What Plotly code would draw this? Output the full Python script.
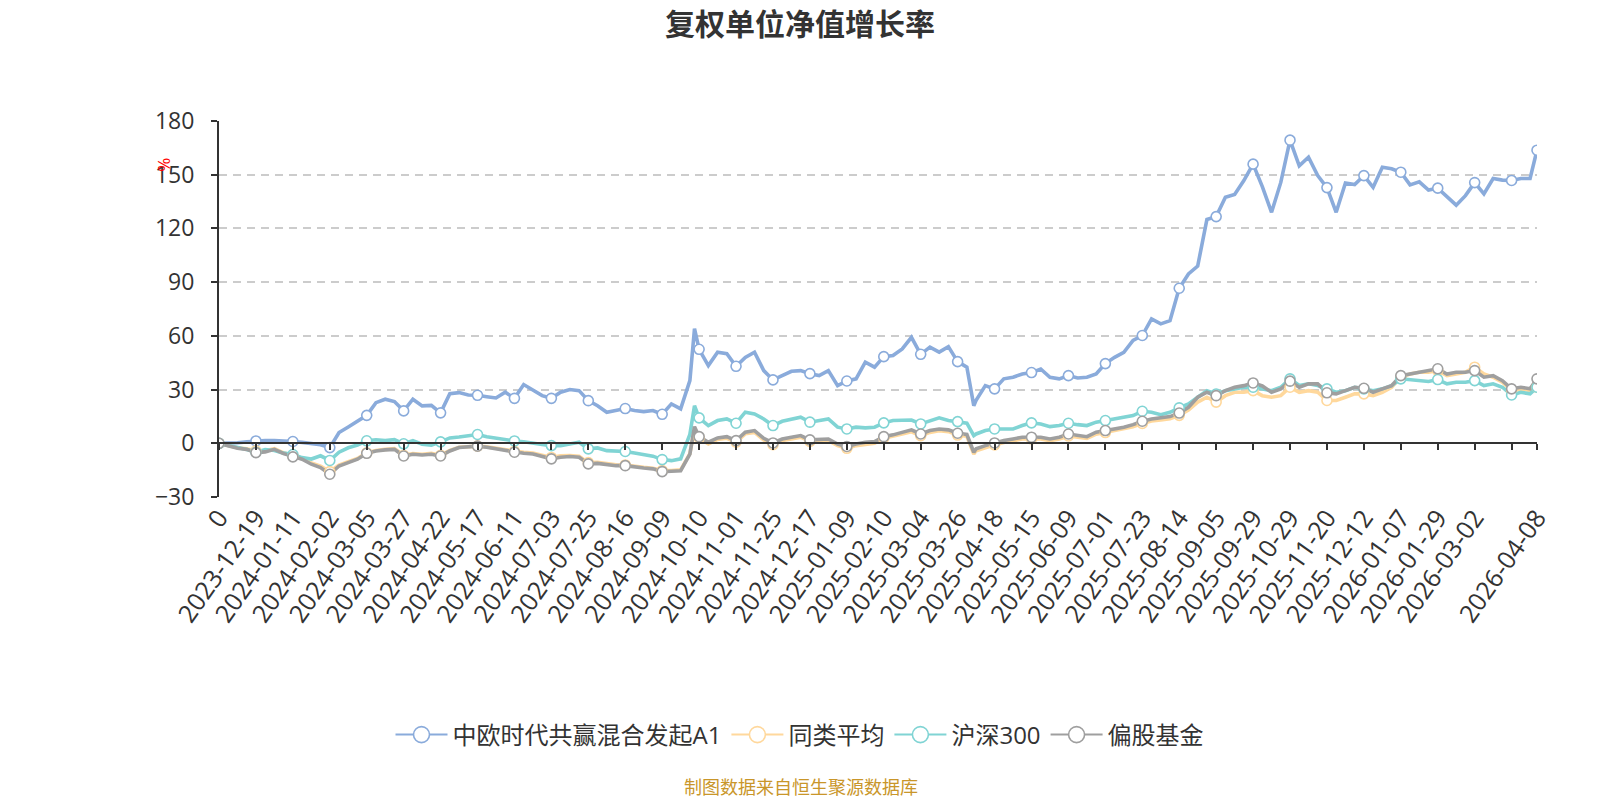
import plotly.graph_objects as go

# category index of each sampled trading day (0 = first day, 571 = 2026-04-08)
IDX = sorted(list(range(0, 569, 4)) + [206, 327, 571])

TICK_IDX = list(range(0, 561, 16)) + [571]
TICK_TEXT = ["0", "2023-12-19", "2024-01-11", "2024-02-02", "2024-03-05", "2024-03-27",
             "2024-04-22", "2024-05-17", "2024-06-11", "2024-07-03", "2024-07-25", "2024-08-16",
             "2024-09-09", "2024-10-10", "2024-11-01", "2024-11-25", "2024-12-17", "2025-01-09",
             "2025-02-10", "2025-03-04", "2025-03-26", "2025-04-18", "2025-05-15", "2025-06-09",
             "2025-07-01", "2025-07-23", "2025-08-14", "2025-09-05", "2025-09-29", "2025-10-29",
             "2025-11-20", "2025-12-12", "2026-01-07", "2026-01-29", "2026-03-02", "", "2026-04-08"]

FUND = [0, 0, 0.3, 0.8, 1.3, 1.5, 1.5, 1.0,
        1.0, 0.5, 0, -0.8, -2.4, 6, 9.1, 12.1,
        15.6, 22.7, 24.6, 23.3, 18.1, 24.6, 20.9, 21.2,
        17, 27.7, 28.3, 27, 26.8, 26, 25.3, 28.5,
        25.1, 32.8, 29.8, 26.6, 25.1, 28.5, 30, 29.4,
        23.8, 21, 17.3, 18.6, 19.4, 18.3, 17.7, 18.3,
        16.2, 22, 19.2, 35, 64, 52.5, 43.4, 50.9,
        50, 43, 48, 50.9, 40.6, 35.4, 37.8, 40.2,
        40.6, 38.9, 37.8, 40.6, 32.2, 34.8, 36, 45.3,
        42.5, 48.4, 49, 52.7, 59.2, 49.7, 53.7, 50.9,
        54, 45.6, 42.5, 21, 24, 32.2, 30.4,
        36, 36.9, 38.7, 39.5, 41.5, 36.9, 36, 37.8,
        36.5, 36.9, 38.7, 44.5, 48, 50.8, 57.4, 60.2,
        69.5, 66.7, 68.5, 86.6, 94.6, 99, 125, 126.6,
        137.4, 139, 146.7, 155.9, 143.4, 129, 145.7, 169.3,
        155, 159.8, 149.5, 142.8, 129, 145.4, 144.5, 149.5,
        143, 154.2, 153.3, 151.4, 144.3, 146, 141.4, 142.5,
        137.4, 133, 138.3, 145.6, 139.3, 147.9, 147, 146.8,
        147.9, 147.9, 163.7]

PEER = [0, -1.3, -2.5, -3, -4.2, -4.2, -3, -5.3,
        -7, -8.3, -11, -12.8, -15.8, -12.2, -10.3, -8.5,
        -5.3, -4, -3.4, -3, -6.7, -5.8, -6.1, -5.6,
        -6.7, -4, -2.2, -1.8, -1.6, -2, -2.8, -3.7,
        -4.5, -5, -5.4, -6.7, -7.9, -7, -6.8, -7.2,
        -10.8, -10.6, -11.4, -12, -12.1, -13, -13.4, -13.9,
        -15.2, -15.2, -14.8, -5.8, 8.2, 3, -0.3, 2.2,
        2.8, 0.6, 5.3, 6.1, 1.9, -0.8, 1.5, 2.4,
        3.4, 1, 1.5, 1.5, -1.3, -2.8, -1.3, -0.4,
        0, 2.8, 3.8, 5.2, 6.4, 4.2, 6.1, 7,
        6.5, 4.6, 3.9, -6, -4.2, -2.3, -0.9,
        0.4, 1.3, 2.4, 2.4, 2.4, 1.4, 2.4, 4.1,
        3.3, 2.7, 5.1, 6, 6.9, 7.8, 9.2, 11.1,
        12.4, 13, 13.7, 15.6, 18.6, 23, 25.7, 23,
        26.6, 28.5, 28.5, 29.4, 26.6, 25.7, 26.6, 31.3,
        28.5, 29.4, 28.5, 23.9, 23.9, 25.7, 27.6, 27.6,
        26.6, 28.5, 31.3, 37, 38.7, 39.7, 39.7, 40.6,
        37.8, 38.7, 39.7, 42.5, 38.7, 36.9, 34.1, 29.4,
        30.4, 29.4, 31.3]

HS300 = [0, -1, -2.5, -3.5, -5, -3.5, -4, -5.5,
         -6.3, -8, -8.8, -7, -9.6, -5, -2.5, -1,
         1.4, 2, 1.5, 2, -0.3, 1.5, -0.5, -1,
         0.8, 3, 3.5, 4, 4.9, 3.7, 2.8, 2.3,
         1.3, 0.9, 0, -0.7, -1.3, -1.3, -0.4, 0.6,
         -3.1, -2.6, -4.1, -4.1, -4.6, -5.4, -6.3, -7.2,
         -9.1, -9.7, -8.7, 5, 21, 14.2, 9.9, 12.7,
         13.6, 11.2, 17.4, 16.4, 13.6, 9.9, 12.3, 13.6,
         14.6, 11.8, 12.7, 13.6, 9, 8, 9, 8.6,
         9, 11.4, 12.7, 13, 13, 10.8, 12.7, 14.2,
         12.7, 12.1, 11.2, 4.3, 5.2, 7.1, 8,
         8, 8, 9.9, 11.4, 10.8, 9.3, 9.9, 11.2,
         10.4, 9.9, 11.8, 12.7, 14, 14.5, 15.5, 17.9,
         17.3, 16, 17.3, 19.8, 22, 25.7, 29.4, 27.5,
         29.4, 30.4, 31.3, 31.3, 30.4, 29.4, 31.3, 36,
         32.3, 33.2, 32.3, 30.4, 28.5, 29.4, 31.3, 30.4,
         29.4, 30.4, 32.2, 36, 35.6, 35, 34.5, 35.6,
         33.2, 34.1, 34.1, 35, 32.2, 33.2, 31.3, 27,
         28.5, 27.6, 31.3]

EQUITY = [0, -1.5, -2.8, -3.4, -5.2, -4.8, -3.4, -5.8,
          -7.6, -8.9, -11.7, -13.6, -17.3, -12.7, -10.8, -8.9,
          -5.6, -4.3, -3.7, -3.4, -7.1, -6.1, -6.5, -6.1,
          -7.1, -4.3, -2.4, -2, -1.6, -2.2, -3.1, -4.1,
          -5, -5.6, -6, -7.4, -8.7, -7.8, -7.4, -7.8,
          -11.5, -11.2, -11.9, -12.5, -12.5, -13.4, -13.8, -14.3,
          -15.8, -15.6, -15.3, -6, 9.3, 3.7, 0.6, 3,
          3.7, 1.5, 6.2, 7.1, 2.8, 0.2, 2.4, 3.4,
          4.3, 1.9, 2.4, 2.4, -0.4, -1.8, -0.4, 0.6,
          0.9, 3.7, 4.7, 6.2, 7.5, 5.2, 7.1, 8,
          7.5, 5.6, 4.9, -5, -3.1, -1.3, 0.2,
          1.5, 2.4, 3.4, 3.4, 3.4, 2.4, 3.4, 5.2,
          4.3, 3.7, 6.2, 7.1, 8, 8.9, 10.4, 12.3,
          13.6, 14.2, 14.9, 16.9, 20.1, 25.7, 28.5, 26.6,
          29.4, 31.3, 32.2, 33.7, 32, 28.5, 30.4, 34.7,
          31.3, 33.2, 33.2, 28.2, 27.6, 29.4, 31.3, 30.7,
          28.5, 30.4, 32.2, 37.8, 38.7, 39.7, 40.6, 41.6,
          38.7, 39.7, 39.7, 40.6, 36.9, 37.8, 35, 30.4,
          31.3, 30.4, 36]

SERIES = [("中欧时代共赢混合发起A1", FUND, "#8aabdb"),
          ("同类平均", PEER, "#ffd89c"),
          ("沪深300", HS300, "#80d4d4"),
          ("偏股基金", EQUITY, "#9f9f9f")]

for name, vals, _ in SERIES:
    assert len(vals) == len(IDX), (name, len(vals), len(IDX))

FONT = "Open Sans, Noto Sans CJK SC, sans-serif"
fig = go.Figure()

for name, vals, color in SERIES:
    fig.add_trace(go.Scatter(x=IDX, y=vals, mode="lines", name=name,
                             line=dict(color=color, width=3.6), showlegend=False,
                             hoverinfo="skip"))
for name, vals, color in SERIES:
    mx = [i for i in IDX if i in TICK_IDX]
    my = [v for i, v in zip(IDX, vals) if i in TICK_IDX]
    fig.add_trace(go.Scatter(x=mx, y=my, mode="markers", xaxis="x2", showlegend=False,
                             marker=dict(symbol="circle", size=10, color="white",
                                         line=dict(color=color, width=1.6))))
for name, vals, color in SERIES:
    fig.add_trace(go.Scatter(x=[None], y=[None], mode="lines+markers", name=name,
                             xaxis="x2",
                             line=dict(color=color, width=2),
                             marker=dict(symbol="circle", size=22, color="white",
                                         line=dict(color=color, width=1.6))))

XR = [0, 571]
fig.update_layout(
    width=1600, height=800,
    paper_bgcolor="white", plot_bgcolor="white",
    margin=dict(l=219, r=63, t=121, b=303),
    font=dict(family=FONT, color="#333"),
    title=dict(text="<b>复权单位净值增长率</b>", x=0.5, xref="container", xanchor="center",
               y=1 - 24 / 800, yref="container", yanchor="middle",
               font=dict(size=30, color="#333", family="Noto Sans CJK SC")),
    xaxis=dict(range=XR, tickmode="array", tickvals=TICK_IDX, ticktext=TICK_TEXT,
               tickangle=-55, showgrid=False, zeroline=False, showline=False, ticks="",
               tickfont=dict(size=25, color="#333")),
    xaxis2=dict(range=XR, overlaying="x", anchor="free", position=30 / 210,
                tickmode="array", tickvals=TICK_IDX, showticklabels=False,
                showgrid=False, zeroline=False, showline=True, linecolor="#333",
                linewidth=2, ticks="outside", ticklen=6, tickwidth=2, tickcolor="#333"),
    yaxis=dict(range=[-30, 180], tickmode="array", tickvals=[-30, 0, 30, 60, 90, 120, 150, 180],
               showgrid=True, gridcolor="#cccccc", gridwidth=1.5, griddash="8px,6px",
               zeroline=False, showline=True, linecolor="#333", linewidth=2,
               ticks="outside", ticklen=6, tickwidth=2, tickcolor="#333",
               ticklabelstandoff=12,
               tickfont=dict(size=23, color="#333")),
    legend=dict(orientation="h", xref="container", yref="container", x=0.5, xanchor="center",
                y=1 - 735 / 800, yanchor="middle", font=dict(size=24, color="#333"),
                itemwidth=52),
    showlegend=True,
)

fig.add_annotation(text="%", xref="paper", yref="paper", x=(150 - 219) / 1318,
                   y=(496.7 - 156) / 376, showarrow=False, textangle=-90,
                   font=dict(size=17, color="red"))
fig.add_annotation(text="制图数据来自恒生聚源数据库", xref="paper", yref="paper",
                   x=(801 - 219) / 1318, y=(496.7 - 786) / 376, showarrow=False,
                   xanchor="center", yanchor="middle",
                   font=dict(size=18, color="#c9962a", family="Noto Sans CJK SC"))

fig.write_html("out.html")
